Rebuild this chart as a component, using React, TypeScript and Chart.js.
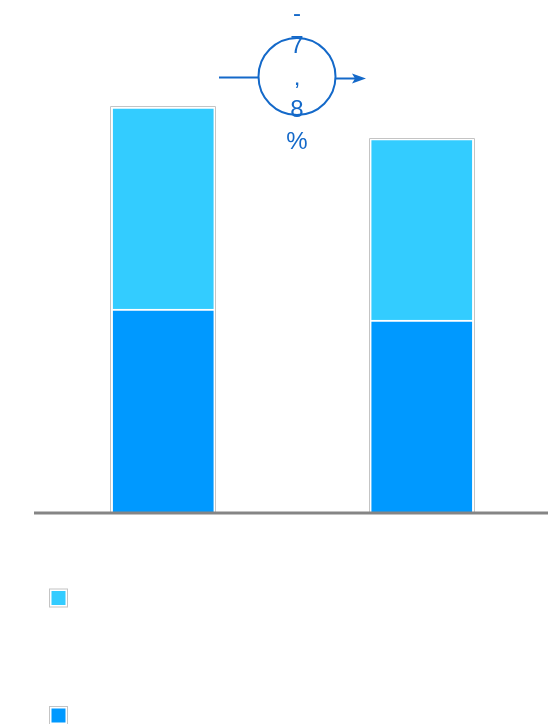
import React, { useEffect, useRef } from "react";
import { Chart, registerables } from "chart.js";

Chart.register(...registerables);

const categories = ["Période 1", "Période 2"];
const seriesNames = ["Série haute", "Série basse"];
const bottomValues = [50.2, 47.5];
const topValues = [49.8, 44.7];
const changeLabel = "-7,8%";

const CYAN = "#33CCFF";
const BLUE = "#0099FF";
const ANNOT = "#1469C9";
const OUTLINE = "#C4C4C4";

const overlayPlugin = {
  id: "overlay",
  afterDatasetsDraw(chart: any) {
    const ctx = chart.ctx;
    const area = chart.chartArea;
    const metaBottom = chart.getDatasetMeta(0);
    const metaTop = chart.getDatasetMeta(1);
    ctx.save();
    // grey outline around each stack
    ctx.strokeStyle = OUTLINE;
    ctx.lineWidth = 1;
    metaBottom.data.forEach((b: any, i: number) => {
      const t = metaTop.data[i];
      const w = b.width;
      const left = Math.round(b.x - w / 2) - 0.5;
      const right = Math.round(b.x + w / 2) + 0.5;
      const top = Math.round(t.y) - 0.5;
      const bottom = b.base;
      ctx.beginPath();
      ctx.moveTo(left, bottom);
      ctx.lineTo(left, top);
      ctx.lineTo(right, top);
      ctx.lineTo(right, bottom);
      ctx.stroke();
    });
    // baseline
    ctx.strokeStyle = "#858585";
    ctx.lineWidth = 3;
    ctx.beginPath();
    ctx.moveTo(area.left, area.bottom);
    ctx.lineTo(area.right, area.bottom);
    ctx.stroke();

    // annotation
    const cx = 297;
    const cy = 76.5;
    const r = 38.5;
    ctx.strokeStyle = ANNOT;
    ctx.fillStyle = ANNOT;
    ctx.lineWidth = 2;
    ctx.beginPath();
    ctx.arc(cx, cy, r, 0, Math.PI * 2);
    ctx.stroke();
    ctx.beginPath();
    ctx.moveTo(219, 77.5);
    ctx.lineTo(cx - r, 77.5);
    ctx.stroke();
    ctx.beginPath();
    ctx.moveTo(cx + r, 78.5);
    ctx.lineTo(362, 78.5);
    ctx.stroke();
    ctx.beginPath();
    ctx.moveTo(366, 78.5);
    ctx.lineTo(352, 73.5);
    ctx.lineTo(355, 78.5);
    ctx.lineTo(352, 83.5);
    ctx.closePath();
    ctx.fill();

    ctx.font = "24px 'Liberation Sans', Arial, sans-serif";
    ctx.textAlign = "center";
    ctx.textBaseline = "alphabetic";
    const chars = Array.from(changeLabel);
    chars.forEach((c, i) => {
      ctx.fillText(c, cx, 21 + i * 32);
    });

    // legend boxes
    const legendItems = [
      { color: CYAN, y: 598.5 },
      { color: BLUE, y: 716 },
    ];
    legendItems.forEach((it) => {
      ctx.strokeStyle = OUTLINE;
      ctx.lineWidth = 1;
      ctx.strokeRect(49.5, it.y - 9.5, 18, 18);
      ctx.fillStyle = it.color;
      ctx.fillRect(51.5, it.y - 7.5, 14, 14);
    });
    ctx.restore();
  },
};

export default function App() {
  const ref = useRef<HTMLCanvasElement | null>(null);
  useEffect(() => {
    document.body.style.margin = "0";
    document.body.style.overflow = "hidden";
    if (!ref.current) return;
    const chart = new Chart(ref.current, {
      type: "bar",
      data: {
        labels: categories,
        datasets: [
          {
            label: seriesNames[1],
            data: bottomValues,
            backgroundColor: BLUE,
            borderColor: "#FFFFFF",
            borderWidth: 2,
            barThickness: 104,
          },
          {
            label: seriesNames[0],
            data: topValues,
            backgroundColor: CYAN,
            borderColor: "#FFFFFF",
            borderWidth: 2,
            barThickness: 104,
          },
        ],
      },
      options: {
        responsive: false,
        animation: false,
        layout: { padding: { left: 34, right: 0, top: 66.4, bottom: 211 } },
        plugins: {
          legend: { display: false },
          tooltip: { enabled: false },
          title: { display: false },
        },
        scales: {
          x: { stacked: true, display: false },
          y: { stacked: true, display: false, min: 0, max: 110 },
        },
      },
      plugins: [overlayPlugin],
    });
    return () => chart.destroy();
  }, []);
  return (
    <canvas
      ref={ref}
      width={551}
      height={724}
      style={{ display: "block", width: 551, height: 724 }}
    />
  );
}
